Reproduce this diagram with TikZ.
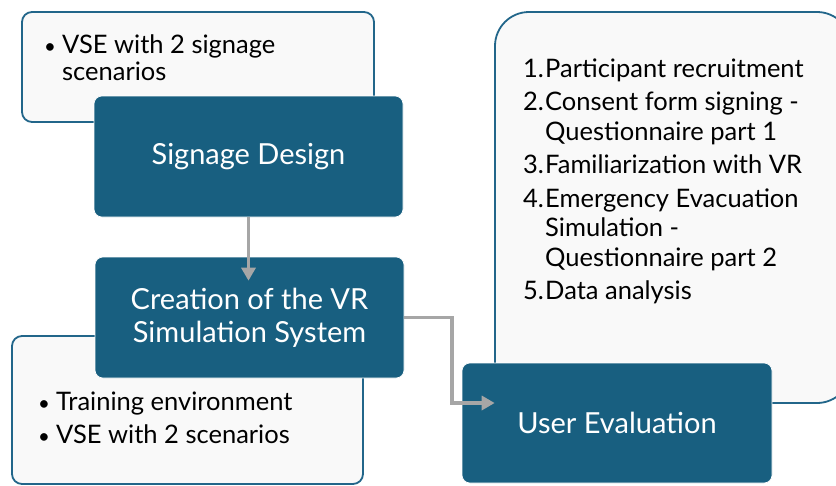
\documentclass[tikz,border=0pt]{standalone}
\usepackage{fontspec}
\setmainfont{Lato}
\usetikzlibrary{arrows.meta}
\definecolor{boxblue}{HTML}{185F80}
\definecolor{noteline}{HTML}{22668A}
\definecolor{notefill}{HTML}{F9F9F9}
\definecolor{flowgray}{HTML}{A6A6A6}
\tikzset{
  note/.style={draw=noteline, line width=1.8pt, fill=notefill, rounded corners=10pt, inner sep=0pt},
  stage/.style={fill=boxblue, draw=white, line width=0.6pt, rounded corners=8pt, text=white,
    align=center, inner sep=0pt, font=\fontsize{29}{33}\selectfont},
  notetext/.style={anchor=base west, inner sep=0pt, font=\fontsize{25.5}{28}\selectfont},
  flow/.style={draw=flowgray, line width=3.4pt, -{Triangle[length=13pt,width=14pt]}},
}
% top-aligned text block, so that the node's base is the first baseline
\newcommand{\noteblock}[2][29.5pt]{\parbox[t]{320pt}{\raggedright\baselineskip=#1 #2}}
\newcommand{\bul}{\makebox[19pt][l]{\hspace*{1pt}\scalebox{0.8}{\textbullet}}}
\newcommand{\num}[1]{\makebox[22pt][l]{#1.}}
\begin{document}
\begin{tikzpicture}[x=1pt,y=-1pt]
\useasboundingbox (0,0) rectangle (836,485);
\clip (0,0) rectangle (836,485);

% note behind the signage stage
\node[note, minimum width=352pt, minimum height=110pt] (sdnote) at (198,67) {};
\node[notetext] (sdtext) at (43,53)
  {\noteblock[27.5pt]{\bul VSE with 2 signage\\\hspace*{19pt}scenarios}};

% signage design stage
\node[stage, minimum width=309pt, minimum height=121pt] (sd) at (248.5,156.5) {Signage Design};

% note under the simulation stage
\node[note, minimum width=351pt, minimum height=148pt] (crnote) at (187.5,410) {};
\node[notetext] (crtext) at (37,410)
  {\noteblock[33pt]{\bul Training environment\\\bul VSE with 2 scenarios}};

% procedure note on the right
\node[note, rounded corners=34pt, minimum width=356pt, minimum height=391pt] (uenote) at (673,207.5) {};
\node[notetext] (uetext) at (523,77)
  {\noteblock{\num{1}Participant recruitment\\[4pt]
   \num{2}Consent form signing -\\
   \hspace*{22pt}Questionnaire part 1\\[4pt]
   \num{3}Familiarization with VR\\[4pt]
   \num{4}Emergency Evacuation\\
   \hspace*{22pt}Simulation -\\
   \hspace*{22pt}Questionnaire part 2\\[4pt]
   \num{5}Data analysis}};

% simulation system stage
\node[stage, minimum width=309pt, minimum height=121pt] (cr) at (249.5,317.5)
  {Creation of the VR\\Simulation System};

% user evaluation stage
\node[stage, minimum width=310pt, minimum height=120pt] (ue) at (617,423) {User Evaluation};

% connectors
\draw[flow, shorten >=-24pt] (sd.south) -- (sd.south |- cr.north);
\coordinate (bend) at (452,403);
\draw[flow, shorten >=-33pt] (cr.east) -| (bend) -- (bend -| ue.west);
\end{tikzpicture}
\end{document}
